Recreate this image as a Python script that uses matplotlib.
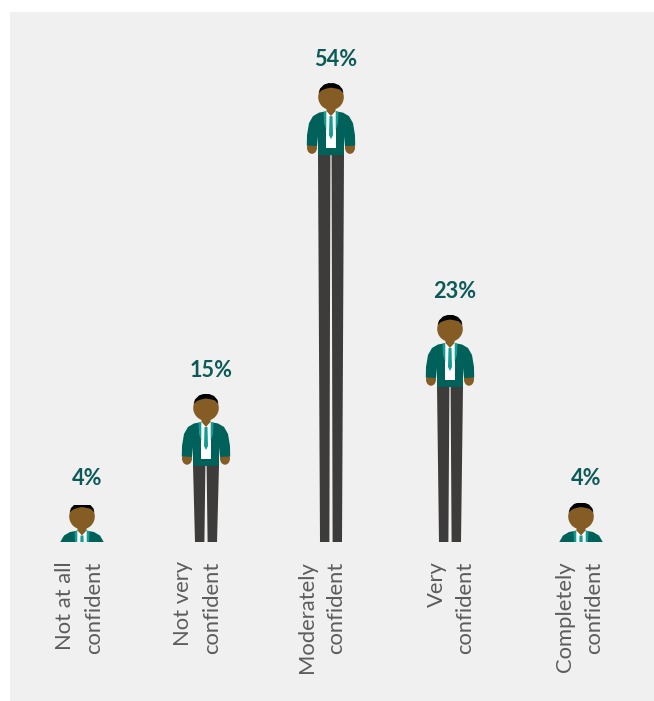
import numpy as np
import matplotlib
matplotlib.use('Agg')
import matplotlib.pyplot as plt
from matplotlib.patches import Polygon, Circle, Ellipse, Rectangle
from matplotlib.transforms import Affine2D, IdentityTransform

categories = ['Not at all\nconfident', 'Not very\nconfident', 'Moderately\nconfident',
              'Very\nconfident', 'Completely\nconfident']
values = [4, 15, 54, 23, 4]

person_x = [82, 206, 331, 450, 581]
label_x = [80, 198, 322, 451, 580]
head_crop = [2, 0, 0, 0, 0]  # px trimmed off the top of each figure

BG = '#f0f0f0'
JACKET = '#00605a'
LAPEL = '#129c93'
SKIN = '#855d24'
TROUSERS = '#3d3c3b'
TEXT = '#5c5c5c'
PCT = '#0b5a57'

W, H = 654, 701
BASE_Y = 542  # baseline measured from the top of the figure
TOP_Y = 12


# the tallest figure is squeezed so it stays inside the panel
def forward(v):
    v = np.asarray(v, dtype=float)
    return np.where(v <= 23, 9.87 * v, 227 + 7.48 * (v - 23))


def inverse(h):
    h = np.asarray(h, dtype=float)
    return np.where(h <= 227, h / 9.87, 23 + (h - 227) / 7.48)


fig = plt.figure(figsize=(W / 100, H / 100), dpi=100, facecolor='white')
fig.patches.append(Rectangle((10 / W, 0), (W - 10) / W, (H - TOP_Y) / H, transform=fig.transFigure,
                             facecolor=BG, edgecolor='none', zorder=-1))

ax = fig.add_axes([0, (H - BASE_Y) / H, 1, (BASE_Y - TOP_Y) / H])
ax.patch.set_alpha(0)
ax.set_yscale('function', functions=(forward, inverse))
ax.set_xlim(0, W)
ax.set_ylim(0, 23 + (BASE_Y - TOP_Y - 227) / 7.48)
for s in ax.spines.values():
    s.set_visible(False)
ax.yaxis.set_visible(False)
ax.set_xticks(label_x, categories, rotation=90, ha='center', va='top', ma='right',
              fontfamily='Lato', fontsize=15.8, color=TEXT, linespacing=1.57)
ax.tick_params(axis='x', length=0, pad=13.8)


def draw_person(x, value, crop):
    cx, top = ax.transData.transform((x, value))
    base = ax.transData.transform((x, 0))[1]
    # figure parts are laid out in pixels down from the top of the head
    body = Affine2D().scale(1, -1).translate(cx, top)
    window = Rectangle((0, base), W, top - crop - base, transform=IdentityTransform())

    def add(patch):
        patch.set_transform(body)
        ax.add_patch(patch)
        patch.set_clip_path(window)

    # legs stretch down to the baseline
    hip = top - 71
    for sign in (-1, 1):
        ax.add_patch(Polygon([(cx + sign * 0.6, hip), (cx + sign * 13, hip),
                              (cx + sign * 11, base), (cx + sign * 1.6, base)],
                             closed=True, facecolor=TROUSERS, edgecolor='none',
                             transform=IdentityTransform()))

    for sign in (-1, 1):
        # hand
        add(Ellipse((sign * 19, 64.5), 10, 12.5, facecolor=SKIN, edgecolor='none'))
    jacket = [(-5, 28.2), (-12, 29.5), (-18, 33), (-22, 40), (-24, 52), (-24.2, 62.5), (-14, 63),
              (-13, 53), (-13, 72), (13, 72), (13, 53), (14, 63), (24.2, 62.5), (24, 52),
              (22, 40), (18, 33), (12, 29.5), (5, 28.2)]
    add(Polygon(jacket, closed=True, facecolor=JACKET, edgecolor='none'))
    add(Polygon([(-4.7, 28), (4.7, 28), (4.7, 65), (-4.7, 65)], closed=True, facecolor='white', edgecolor='none'))
    for sign in (-1, 1):
        add(Polygon([(sign * 4.7, 28), (sign * 7.5, 29), (sign * 7, 40), (sign * 4.7, 47)],
                    closed=True, facecolor=LAPEL, edgecolor='none'))
    add(Polygon([(-1.5, 33), (1.5, 33), (2, 52), (0, 56), (-2, 52)], closed=True, facecolor=LAPEL, edgecolor='none'))
    add(Polygon([(-4.5, 22), (4.5, 22), (4.5, 28), (0, 33), (-4.5, 28)], closed=True, facecolor=SKIN, edgecolor='none'))
    add(Circle((0, 14), 12.8, facecolor=SKIN, edgecolor='none'))
    hair = [(-12.4, 10), (-11, 5.5), (-7, 1.5), (-2.5, 0), (3, 0), (8, 2), (11.5, 6), (12.4, 10),
            (9, 6.5), (5.5, 5.5), (0, 4.5), (-5, 5.5), (-9, 7)]
    add(Polygon(hair, closed=True, facecolor='black', edgecolor='none'))


for x, v, crop in zip(person_x, values, head_crop):
    draw_person(x, v, crop)
    ax.annotate(f'{v}%', (x, v), xytext=(3.4, 17), textcoords='offset points', ha='center', va='center',
                fontfamily='Lato', fontweight='bold', fontsize=15.6, color=PCT, annotation_clip=False)

fig.savefig('out.png', dpi=100)
